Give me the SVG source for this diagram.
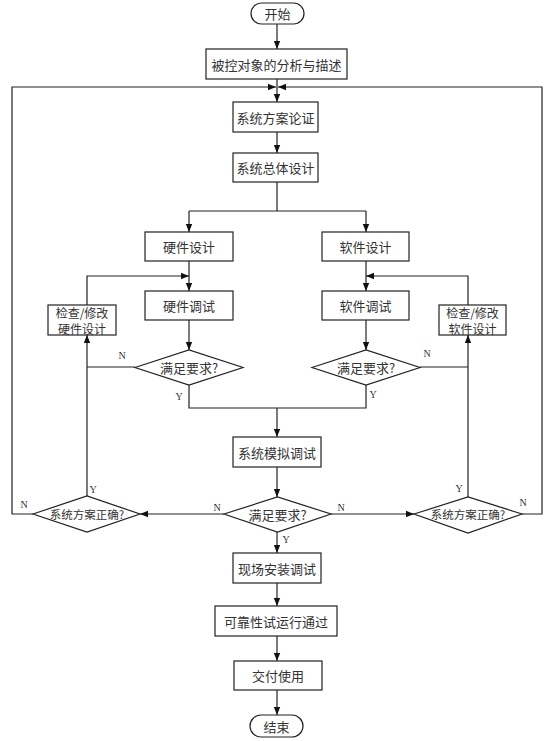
<svg xmlns="http://www.w3.org/2000/svg" width="554" height="741" viewBox="0 0 554 741">
<defs>
<style>
.b{fill:#fff;stroke:#222;stroke-width:1.2}
.t{font-family:"Noto Sans CJK SC","Liberation Serif",sans-serif;font-size:13px;fill:#333;text-anchor:middle;dominant-baseline:central}
.s{font-size:11.5px}
.f{font-size:12px}
.l{fill:none;stroke:#222;stroke-width:1.2}
.yn{font-family:"Liberation Serif",serif;font-size:10px;fill:#333;text-anchor:middle}
</style>
<marker id="a" viewBox="0 0 10 10" refX="10" refY="5" markerWidth="8" markerHeight="8" markerUnits="userSpaceOnUse" orient="auto">
<path d="M0,1 L10,5 L0,9 z" fill="#111"/>
</marker>
</defs>
<rect width="554" height="741" fill="#fff"/>
<g id="connectors">
<path class="l" d="M277,24 V49" marker-end="url(#a)"/>
<path class="l" d="M277,79 V102" marker-end="url(#a)"/>
<path class="l" d="M33,514 H12 V87 H276" marker-end="url(#a)"/>
<path class="l" d="M522,514 H542 V87 H278" marker-end="url(#a)"/>
<path class="l" d="M277,132 V153" marker-end="url(#a)"/>
<path class="l" d="M277,182 V211 M189,211 H366"/>
<path class="l" d="M189,211 V232" marker-end="url(#a)"/>
<path class="l" d="M366,211 V232" marker-end="url(#a)"/>
<path class="l" d="M189,261 V291" marker-end="url(#a)"/>
<path class="l" d="M366,261 V291" marker-end="url(#a)"/>
<path class="l" d="M87,305 V276 H189" marker-end="url(#a)"/>
<path class="l" d="M468,305 V276 H366" marker-end="url(#a)"/>
<path class="l" d="M189,320 V350" marker-end="url(#a)"/>
<path class="l" d="M366,320 V350" marker-end="url(#a)"/>
<path class="l" d="M135,367 H87"/>
<path class="l" d="M87,496 V335" marker-end="url(#a)"/>
<path class="l" d="M420,367 H468"/>
<path class="l" d="M468,497 V335" marker-end="url(#a)"/>
<path class="l" d="M189,385 V408 H366 V385"/>
<path class="l" d="M277,408 V437" marker-end="url(#a)"/>
<path class="l" d="M277,467 V497" marker-end="url(#a)"/>
<path class="l" d="M224,514 H140" marker-end="url(#a)"/>
<path class="l" d="M331,514 H414" marker-end="url(#a)"/>
<path class="l" d="M277,532 V553" marker-end="url(#a)"/>
<path class="l" d="M277,583 V606" marker-end="url(#a)"/>
<path class="l" d="M277,636 V661" marker-end="url(#a)"/>
<path class="l" d="M277,690 V715" marker-end="url(#a)"/>
<text class="yn" x="122" y="359">N</text>
<text class="yn" x="179" y="400">Y</text>
<text class="yn" x="427" y="357">N</text>
<text class="yn" x="373" y="398">Y</text>
<text class="yn" x="93" y="493">Y</text>
<text class="yn" x="24" y="508">N</text>
<text class="yn" x="217" y="511">N</text>
<text class="yn" x="341" y="511">N</text>
<text class="yn" x="286" y="543">Y</text>
<text class="yn" x="459" y="492">Y</text>
<text class="yn" x="523" y="506">N</text>
</g>
<g id="start"><rect class="b" x="251" y="3" width="53" height="21" rx="10.5"/><text class="t" x="277.5" y="13.5">开始</text></g>
<g id="analyze"><rect class="b" x="206" y="49" width="141" height="30"/><text class="t" x="276.5" y="64">被控对象的分析与描述</text></g>
<g id="scheme"><rect class="b" x="233" y="102" width="85" height="30"/><text class="t" x="275.5" y="117">系统方案论证</text></g>
<g id="overall"><rect class="b" x="233" y="153" width="85" height="29"/><text class="t" x="275.5" y="167.5">系统总体设计</text></g>
<g id="hwdesign"><rect class="b" x="145" y="232" width="88" height="29"/><text class="t" x="189" y="246.5">硬件设计</text></g>
<g id="swdesign"><rect class="b" x="322" y="232" width="87" height="29"/><text class="t" x="365.5" y="246.5">软件设计</text></g>
<g id="hwdebug"><rect class="b" x="145" y="291" width="88" height="29"/><text class="t" x="189" y="305.5">硬件调试</text></g>
<g id="swdebug"><rect class="b" x="322" y="291" width="87" height="29"/><text class="t" x="365.5" y="305.5">软件调试</text></g>
<g id="hwfix"><rect class="b" x="48" y="305" width="68" height="30"/><text class="t f" x="82" y="312">检查/修改</text><text class="t f" x="82" y="328">硬件设计</text></g>
<g id="swfix"><rect class="b" x="439" y="305" width="67" height="30"/><text class="t f" x="472.5" y="312">检查/修改</text><text class="t f" x="472.5" y="328">软件设计</text></g>
<g id="hwcheck"><polygon class="b" points="135,367.5 189,350 243,367.5 189,385"/><text class="t" x="189" y="367.5">满足要求?</text></g>
<g id="swcheck"><polygon class="b" points="312,367.5 366,350 420,367.5 366,385"/><text class="t" x="366" y="367.5">满足要求?</text></g>
<g id="simulate"><rect class="b" x="233" y="437" width="88" height="30"/><text class="t" x="277" y="452">系统模拟调试</text></g>
<g id="simcheck"><polygon class="b" points="224,514 277.5,497 331,514 277.5,532"/><text class="t" x="277.5" y="514">满足要求?</text></g>
<g id="leftcheck"><polygon class="b" points="33,514 87,496 140,514 87,532"/><text class="t s" x="87" y="514">系统方案正确?</text></g>
<g id="rightcheck"><polygon class="b" points="414,514 468,497 522,514 468,533"/><text class="t s" x="468" y="514">系统方案正确?</text></g>
<g id="install"><rect class="b" x="233" y="553" width="88" height="30"/><text class="t" x="277" y="568">现场安装调试</text></g>
<g id="trial"><rect class="b" x="215" y="606" width="122" height="30"/><text class="t" x="276" y="621">可靠性试运行通过</text></g>
<g id="deliver"><rect class="b" x="234" y="661" width="88" height="29"/><text class="t" x="278" y="675.5">交付使用</text></g>
<g id="end"><rect class="b" x="250" y="715" width="53" height="22" rx="11"/><text class="t" x="276.5" y="726">结束</text></g>
</svg>
